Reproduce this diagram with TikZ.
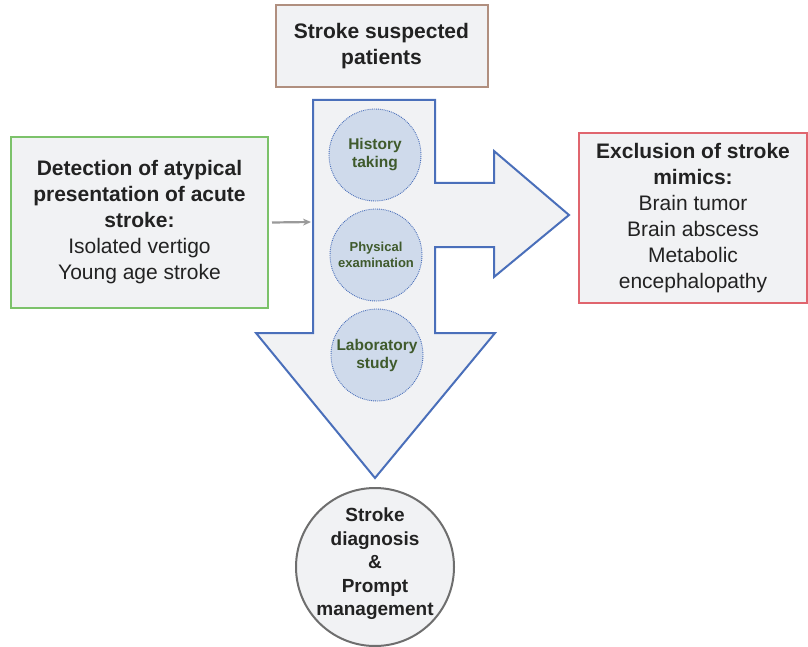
\documentclass[tikz,border=0pt]{standalone}
\usepackage{fontspec}
\setmainfont{Liberation Sans}
\usetikzlibrary{arrows.meta}
\definecolor{boxfill}{HTML}{F1F2F4}
\definecolor{arrowblue}{HTML}{4A6FBA}
\definecolor{circfill}{HTML}{CFDAEB}
\definecolor{brownb}{HTML}{B08F7F}
\definecolor{greenb}{HTML}{7CC26A}
\definecolor{redb}{HTML}{E0656E}
\definecolor{greyb}{HTML}{6E6E6E}
\definecolor{txt}{HTML}{222222}
\definecolor{circtxt}{HTML}{3F5A2C}
\definecolor{linkgrey}{HTML}{9A9A9A}
\begin{document}
\begin{tikzpicture}[x=1pt,y=-1pt,
  textbox/.style={draw, line width=2pt, fill=boxfill, inner sep=0pt, text=txt, align=center,
    font=\fontsize{21}{26}\selectfont},
  stepcirc/.style={circle, draw=arrowblue, densely dotted, line width=0.9pt, fill=circfill,
    minimum size=92pt, inner sep=0pt, align=center, text=circtxt},
  flow/.style={draw=arrowblue, line width=2pt, fill=boxfill, line join=miter},
  link/.style={draw=linkgrey, line width=2.2pt, -{Stealth[length=8pt,width=7pt]}}
]
\useasboundingbox (0,0) rectangle (808,647);
% big arrow shape
\path[flow] (313,100) -- (435,100) -- (435,183) -- (494,183) -- (494,151) -- (569,215)
  -- (494,277) -- (494,247) -- (435,247) -- (435,333) -- (495,333) -- (375,478)
  -- (256,333) -- (313,333) -- cycle;
\coordinate (stemL) at (313,222);
% top box
\node[textbox, draw=brownb, minimum width=212pt, minimum height=82pt] (top) at (381.5,46)
  {\textbf{Stroke suspected}\\\textbf{patients}};
% left box
\node[textbox, draw=greenb, minimum width=257pt, minimum height=171pt] (left) at (139.5,222.5)
  {\textbf{Detection of atypical}\\\textbf{presentation of acute}\\\textbf{stroke:}\\Isolated vertigo\\Young age stroke};
% right box
\node[textbox, draw=redb, minimum width=228pt, minimum height=170pt] (right) at (693,218)
  {\textbf{Exclusion of stroke}\\\textbf{mimics:}\\Brain tumor\\Brain abscess\\Metabolic\\encephalopathy};
% step circles
\node[stepcirc, font=\fontsize{15.5}{18}\selectfont\bfseries] (hist) at (375,155) {History\\taking};
\node[stepcirc, font=\fontsize{13}{16}\selectfont\bfseries] (phys) at (376,255) {Physical\\examination};
\node[stepcirc, font=\fontsize{15.5}{18}\selectfont\bfseries] (lab) at (377,355) {Laboratory\\study};
% bottom circle
\node[circle, draw=greyb, line width=2pt, fill=boxfill, minimum size=158pt, inner sep=0pt,
  label={[align=center, text=txt, yshift=3pt, inner sep=0pt, font=\fontsize{19}{23.5}\selectfont\bfseries]center:{Stroke\\diagnosis\\\&\\Prompt\\management}}]
  (diag) at (375,567) {};
% connector
\draw[link] (left.east) ++(3pt,0) -- ([xshift=-2pt]stemL);
\end{tikzpicture}
\end{document}
